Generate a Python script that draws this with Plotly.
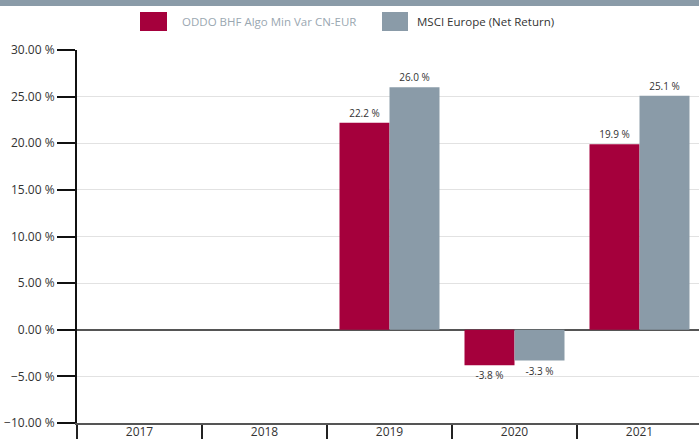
import plotly.graph_objects as go

years = ["2017", "2018", "2019", "2020", "2021"]
fund_name = "ODDO BHF Algo Min Var CN-EUR"
bench_name = "MSCI Europe (Net Return)"
fund_values = [None, None, 22.2, -3.8, 19.9]
bench_values = [None, None, 26.0, -3.3, 25.1]
colors = ["#a5003c", "#8a9ba8"]

W, H = 699, 439
ML, MR, MT, MB = 77, 0, 50, 16
PW = W - ML - MR
PH = H - MT - MB

def px(x):
    return (x - ML) / PW

def py(y):
    return 1 - (y - MT) / PH

def lab(v):
    return [None if x is None else f"{x:.1f} %" for x in v]

fig = go.Figure()
for name, vals, c in [(fund_name, fund_values, colors[0]), (bench_name, bench_values, colors[1])]:
    fig.add_trace(go.Bar(
        x=years, y=vals, name=name, marker=dict(color=c, line=dict(width=0)),
        text=lab(vals), textposition="outside", cliponaxis=False,
        textfont=dict(size=10, color="#333333"),
    ))

# top band
fig.add_shape(type="rect", xref="paper", yref="paper", x0=px(0), x1=px(W), y0=py(0), y1=py(6),
              fillcolor="#8a9ba8", line=dict(width=0), layer="above")

# manual legend
leg = [(140, 167, 180, fund_name, "#9aa7b1"), (382, 408, 415, bench_name, "#333333")]
for i, (x0, x1, tx, name, tc) in enumerate(leg):
    fig.add_shape(type="rect", xref="paper", yref="paper", x0=px(x0), x1=px(x1), y0=py(12), y1=py(31),
                  fillcolor=colors[i], line=dict(width=0))
    fig.add_annotation(xref="paper", yref="paper", x=px(tx), y=py(21.5), text=name, showarrow=False,
                       xanchor="left", yanchor="middle", font=dict(size=11.5, color=tc))

fig.update_layout(
    width=W, height=H, margin=dict(l=ML, r=MR, t=MT, b=MB, autoexpand=False),
    paper_bgcolor="white", plot_bgcolor="white",
    font=dict(family="Open Sans", size=12, color="#333333"),
    showlegend=False, barmode="group", bargap=0.2, bargroupgap=0,
    xaxis=dict(type="category", range=[-0.5, 4.5 - 0.024], tickson="boundaries", ticks="outside",
               ticklen=16, tickwidth=2, tickcolor="#222", showline=True, linecolor="#555", linewidth=2,
               ticklabelstandoff=-3, tickfont=dict(size=12, color="#333"), showgrid=False,
               automargin=False),
    yaxis=dict(range=[-10, 30], dtick=5, tickformat=".2f", ticksuffix=" %", ticks="outside",
               ticklen=18, tickwidth=2, tickcolor="#111", showline=True, linecolor="#111", linewidth=2,
               gridcolor="#e2e2e2", gridwidth=1, zeroline=True, zerolinecolor="#555", zerolinewidth=2,
               tickfont=dict(size=12, color="#333"), automargin=False),
)
fig.write_html("out.html")
